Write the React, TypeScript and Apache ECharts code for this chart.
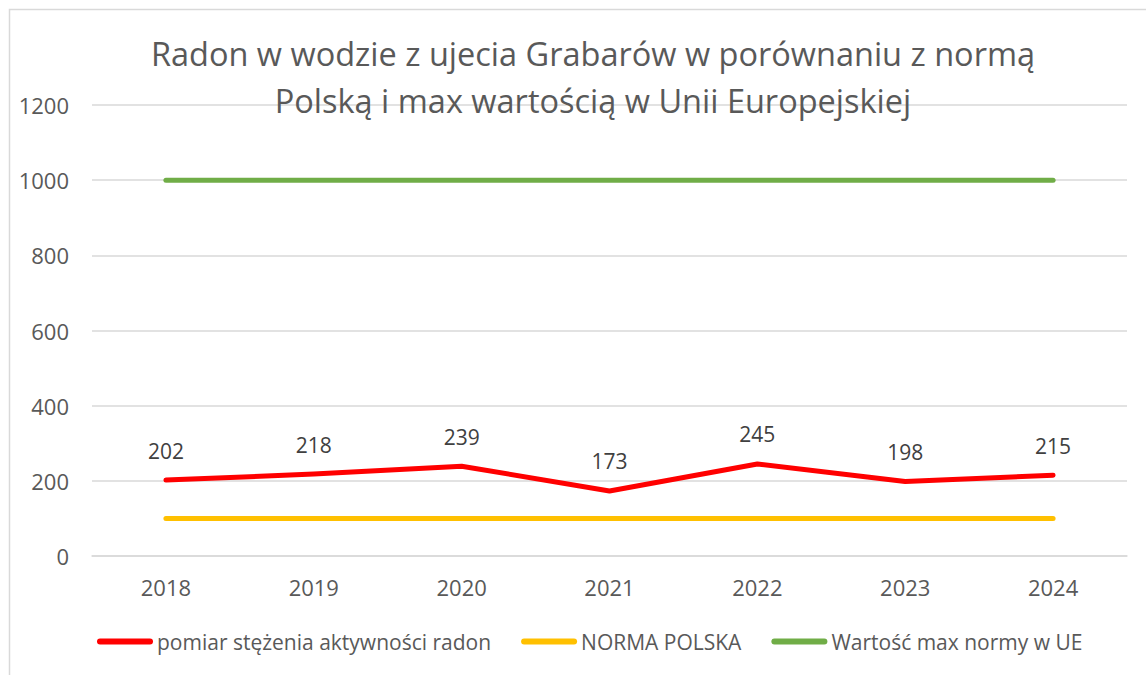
import React, { useEffect, useRef } from "react";
import * as echarts from "echarts";

const titleLines = ["Radon w wodzie z ujecia Grabarów w porównaniu z normą", "Polską i max wartością w Unii Europejskiej"];
const years = ["2018", "2019", "2020", "2021", "2022", "2023", "2024"];
const radon = [202, 218, 239, 173, 245, 198, 215];
const normaPolska = [100, 100, 100, 100, 100, 100, 100];
const normaUE = [1000, 1000, 1000, 1000, 1000, 1000, 1000];
const seriesNames = ["pomiar stężenia aktywności radon", "NORMA POLSKA", "Wartość max normy w UE"];

const FONT = "'Open Sans', sans-serif";
const TXT = "#595959";
const LEGEND_ICON = "path://M3,0 H53 A3,3 0 0 1 53,6 H3 A3,3 0 0 1 3,0 Z";

export default function App() {
  const ref = useRef<HTMLDivElement>(null);
  useEffect(() => {
    if (!ref.current) return;
    const chart = echarts.init(ref.current, undefined, { renderer: "svg" });
    const lineSeries = (name: string, data: number[], color: string, withLabel: boolean) => ({
      name,
      type: "line",
      data,
      symbol: "circle",
      symbolSize: 0,
      showSymbol: withLabel,
      lineStyle: { color, width: 5, cap: "round", join: "round" },
      itemStyle: { color },
      label: withLabel
        ? { show: true, position: "top", distance: 19, fontSize: 21, color: "#404040", fontFamily: FONT }
        : { show: false },
      z: withLabel ? 3 : 2,
    });
    chart.setOption({
      animation: false,
      textStyle: { fontFamily: FONT },
      title: {
        text: titleLines.join("\n"),
        left: 588,
        top: 25,
        textAlign: "center",
        textStyle: { fontSize: 32.5, fontWeight: "normal", color: TXT, lineHeight: 47, fontFamily: FONT },
      },
      graphic: [
        {
          type: "rect",
          shape: { x: 9.5, y: 9.5, width: 1300, height: 800 },
          style: { fill: "none", stroke: "#d9d9d9", lineWidth: 1.5 },
          silent: true,
        },
      ],
      grid: { left: 92, right: 19, top: 105, bottom: 119 },
      xAxis: {
        type: "category",
        data: years,
        boundaryGap: true,
        axisLine: { show: true, lineStyle: { color: "#d9d9d9", width: 1.5 } },
        axisTick: { show: false },
        axisLabel: { fontSize: 22, color: TXT, margin: 20, fontFamily: FONT },
      },
      yAxis: {
        type: "value",
        min: 0,
        max: 1200,
        interval: 200,
        axisLine: { show: false },
        axisTick: { show: false },
        axisLabel: { fontSize: 22, color: TXT, margin: 23, fontFamily: FONT, formatter: (v: number) => String(v) },
        splitLine: { lineStyle: { color: "#d9d9d9", width: 1.5 } },
      },
      legend: {
        data: seriesNames,
        bottom: 18,
        left: 92,
        icon: LEGEND_ICON,
        itemWidth: 56,
        itemHeight: 6,
        itemGap: 30,
        textStyle: { fontSize: 21, color: TXT, fontFamily: FONT, padding: [0, 0, 0, -1] },
      },
      series: [
        lineSeries(seriesNames[0], radon, "#ff0000", true),
        lineSeries(seriesNames[1], normaPolska, "#ffc000", false),
        lineSeries(seriesNames[2], normaUE, "#70ad47", false),
      ],
    });
    return () => chart.dispose();
  }, []);
  return <div ref={ref} style={{ position: "absolute", left: 0, top: 0, width: 1146, height: 675, background: "#fff" }} />;
}
